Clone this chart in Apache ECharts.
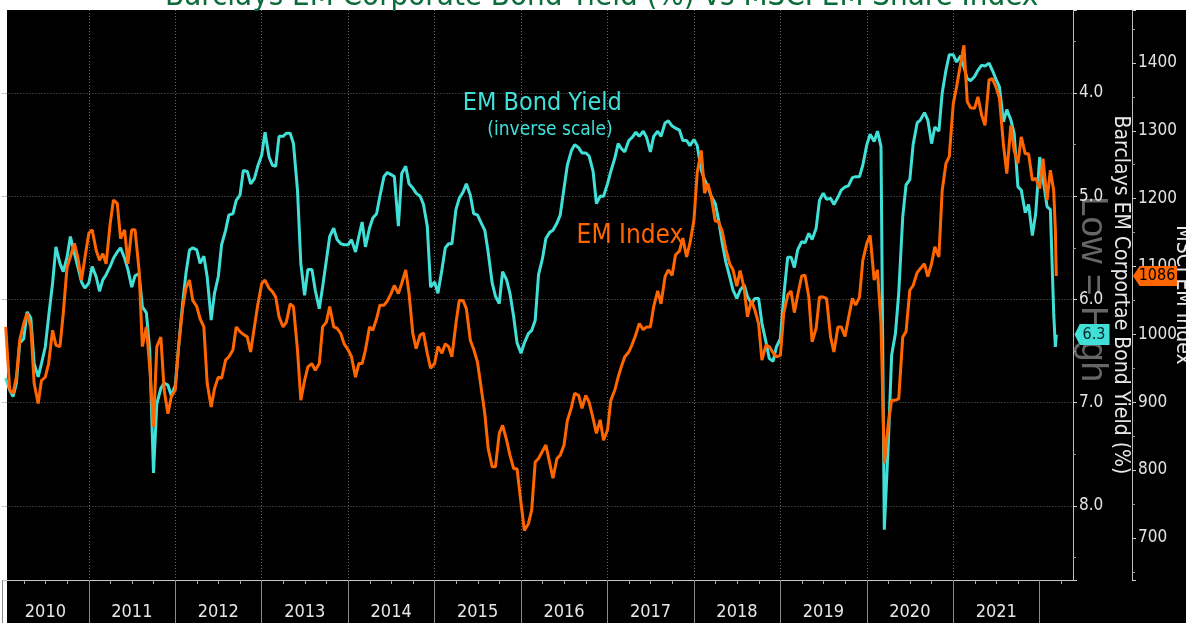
<!DOCTYPE html>
<html><head><meta charset="utf-8">
<script src="https://cdn.jsdelivr.net/npm/echarts@6/dist/echarts.min.js"></script>
<style>html,body{margin:0;padding:0;background:#fff}#c{width:1186px;height:623px}</style>
</head><body><div id="c"></div><script>
// ---- data (semi-monthly readings) ----
const dates = [
'2010-01-15','2010-02-01','2010-02-15','2010-03-01','2010-03-15','2010-04-01','2010-04-15','2010-05-01','2010-05-15','2010-06-01','2010-06-15','2010-07-01','2010-07-15','2010-08-01','2010-08-15','2010-09-01','2010-09-15','2010-10-01','2010-10-15','2010-11-01','2010-11-15','2010-12-01','2010-12-15',
'2011-01-01','2011-01-15','2011-02-01','2011-02-15','2011-03-01','2011-03-15','2011-04-01','2011-04-15','2011-05-01','2011-05-15','2011-06-01','2011-06-15','2011-07-01','2011-07-15','2011-08-01','2011-08-15','2011-09-01','2011-09-15','2011-10-01','2011-10-15','2011-11-01','2011-11-15','2011-12-01','2011-12-15',
'2012-01-01','2012-01-15','2012-02-01','2012-02-15','2012-03-01','2012-03-15','2012-04-01','2012-04-15','2012-05-01','2012-05-15','2012-06-01','2012-06-15','2012-07-01','2012-07-15','2012-08-01','2012-08-15','2012-09-01','2012-09-15','2012-10-01','2012-10-15','2012-11-01','2012-11-15','2012-12-01','2012-12-15',
'2013-01-01','2013-01-15','2013-02-01','2013-02-15','2013-03-01','2013-03-15','2013-04-01','2013-04-15','2013-05-01','2013-05-15','2013-06-01','2013-06-15','2013-07-01','2013-07-15','2013-08-01','2013-08-15','2013-09-01','2013-09-15','2013-10-01','2013-10-15','2013-11-01','2013-11-15','2013-12-01','2013-12-15',
'2014-01-01','2014-01-15','2014-02-01','2014-02-15','2014-03-01','2014-03-15','2014-04-01','2014-04-15','2014-05-01','2014-05-15','2014-06-01','2014-06-15','2014-07-01','2014-07-15','2014-08-01','2014-08-15','2014-09-01','2014-09-15','2014-10-01','2014-10-15','2014-11-01','2014-11-15','2014-12-01','2014-12-15',
'2015-01-01','2015-01-15','2015-02-01','2015-02-15','2015-03-01','2015-03-15','2015-04-01','2015-04-15','2015-05-01','2015-05-15','2015-06-01','2015-06-15','2015-07-01','2015-07-15','2015-08-01','2015-08-15','2015-09-01','2015-09-15','2015-10-01','2015-10-15','2015-11-01','2015-11-15','2015-12-01','2015-12-15',
'2016-01-01','2016-01-15','2016-02-01','2016-02-15','2016-03-01','2016-03-15','2016-04-01','2016-04-15','2016-05-01','2016-05-15','2016-06-01','2016-06-15','2016-07-01','2016-07-15','2016-08-01','2016-08-15','2016-09-01','2016-09-15','2016-10-01','2016-10-15','2016-11-01','2016-11-15','2016-12-01','2016-12-15',
'2017-01-01','2017-01-15','2017-02-01','2017-02-15','2017-03-01','2017-03-15','2017-04-01','2017-04-15','2017-05-01','2017-05-15','2017-06-01','2017-06-15','2017-07-01','2017-07-15','2017-08-01','2017-08-15','2017-09-01','2017-09-15','2017-10-01','2017-10-15','2017-11-01','2017-11-15','2017-12-01','2017-12-15',
'2018-01-01','2018-01-15','2018-02-01','2018-02-15','2018-03-01','2018-03-15','2018-04-01','2018-04-15','2018-05-01','2018-05-15','2018-06-01','2018-06-15','2018-07-01','2018-07-15','2018-08-01','2018-08-15','2018-09-01','2018-09-15','2018-10-01','2018-10-15','2018-11-01','2018-11-15','2018-12-01','2018-12-15',
'2019-01-01','2019-01-15','2019-02-01','2019-02-15','2019-03-01','2019-03-15','2019-04-01','2019-04-15','2019-05-01','2019-05-15','2019-06-01','2019-06-15','2019-07-01','2019-07-15','2019-08-01','2019-08-15','2019-09-01','2019-09-15','2019-10-01','2019-10-15','2019-11-01','2019-11-15','2019-12-01','2019-12-15',
'2020-01-01','2020-01-15','2020-02-01','2020-02-15','2020-03-01','2020-03-15','2020-04-01','2020-04-15','2020-05-01','2020-05-15','2020-06-01','2020-06-15','2020-07-01','2020-07-15','2020-08-01','2020-08-15','2020-09-01','2020-09-15','2020-10-01','2020-10-15','2020-11-01','2020-11-15','2020-12-01','2020-12-15',
'2021-01-01','2021-01-15','2021-02-01','2021-02-15','2021-03-01','2021-03-15','2021-04-01','2021-04-15','2021-05-01','2021-05-15','2021-06-01','2021-06-15','2021-07-01','2021-07-15','2021-08-01','2021-08-15','2021-09-01','2021-09-15','2021-10-01','2021-10-15','2021-11-01','2021-11-15','2021-12-01','2021-12-15',
'2022-01-01','2022-01-15','2022-02-01','2022-02-15','2022-03-01','2022-03-08','2022-03-12'
];
// Barclays EM corporate bond yield, %
const bondYield = [
6.76,6.88,6.94,6.81,6.42,6.38,6.12,6.18,6.62,6.75,6.62,6.46,6.17,5.84,5.49,5.65,5.73,5.59,5.39,5.55,5.68,5.83,5.89,
5.84,5.68,5.78,5.92,5.81,5.76,5.68,5.60,5.54,5.50,5.60,5.71,5.88,5.77,5.75,6.07,6.13,6.49,7.68,7.01,6.86,6.81,6.83,6.93,
6.83,6.46,6.04,5.75,5.52,5.50,5.52,5.65,5.58,5.78,6.20,5.94,5.78,5.47,5.33,5.18,5.17,5.04,4.99,4.75,4.76,4.88,4.83,4.71,
4.60,4.38,4.62,4.70,4.71,4.42,4.42,4.39,4.39,4.49,4.94,5.65,5.96,5.71,5.71,5.91,6.09,5.88,5.62,5.39,5.31,5.42,5.46,5.47,
5.47,5.42,5.54,5.39,5.25,5.49,5.31,5.21,5.17,5.00,4.81,4.77,4.79,4.81,5.29,4.78,4.71,4.88,4.92,4.97,5.00,5.08,5.29,5.88,
5.83,5.94,5.71,5.50,5.46,5.46,5.13,5.02,4.96,4.88,4.99,5.17,5.18,5.25,5.33,5.54,5.84,5.97,6.04,5.73,5.81,5.94,6.17,6.42,
6.52,6.42,6.33,6.30,6.20,5.76,5.60,5.41,5.35,5.33,5.26,5.18,4.92,4.70,4.56,4.50,4.53,4.58,4.58,4.61,4.76,5.07,5.00,5.00,
4.88,4.76,4.63,4.49,4.54,4.57,4.46,4.43,4.38,4.42,4.37,4.43,4.57,4.42,4.37,4.42,4.29,4.27,4.32,4.34,4.36,4.46,4.46,4.51,
4.45,4.51,4.75,4.84,4.91,5.00,5.07,5.23,5.46,5.63,5.78,5.91,5.99,5.91,5.86,5.97,6.04,5.99,5.99,6.23,6.41,6.57,6.60,6.46,
6.38,5.97,5.59,5.59,5.69,5.52,5.44,5.45,5.36,5.42,5.31,5.04,4.97,5.03,5.02,5.08,5.01,4.94,4.91,4.90,4.82,4.81,4.81,4.70,
4.50,4.40,4.47,4.37,4.52,8.23,7.39,6.54,6.33,5.94,5.20,4.89,4.84,4.50,4.29,4.26,4.19,4.26,4.49,4.33,4.37,4.00,3.78,3.63,
3.63,3.70,3.64,3.75,3.86,3.88,3.84,3.78,3.73,3.74,3.71,3.78,3.87,3.94,4.28,4.16,4.26,4.39,4.91,4.94,5.16,5.08,5.38,5.17,
4.62,4.83,5.10,5.13,6.13,6.46,6.34
];
// MSCI EM index
const emIndex = [
1011,918,913,937,991,1016,1031,1011,928,898,932,937,957,1006,984,982,1031,1099,1114,1134,1114,1080,1112,
1149,1154,1124,1109,1119,1104,1163,1198,1193,1141,1154,1104,1154,1154,1095,982,1011,952,864,982,996,918,883,908,
918,982,1038,1068,1080,1050,1041,1023,1011,928,893,920,937,935,962,967,977,1011,1004,1000,996,974,1011,1043,
1075,1080,1068,1063,1055,1026,1011,1018,1045,1041,977,903,932,952,957,947,957,1011,1018,1041,1011,1009,1001,986,
977,967,937,957,957,977,1011,1006,1023,1043,1043,1049,1060,1072,1060,1075,1095,1060,1001,979,999,1002,972,950,
957,982,972,986,982,967,1016,1050,1050,1038,991,978,959,925,883,832,805,805,854,866,844,822,802,802,
751,711,721,741,812,817,828,837,811,788,817,822,837,873,892,913,910,891,910,900,876,854,874,844,
859,903,918,937,953,967,974,985,1000,1016,1007,1011,1011,1041,1064,1045,1085,1095,1087,1117,1123,1142,1114,1134,
1168,1239,1271,1208,1222,1203,1167,1166,1151,1126,1104,1095,1071,1094,1068,1026,1050,1036,1016,962,984,982,973,967,
969,1031,1058,1064,1032,1058,1086,1087,1055,989,1009,1055,1055,1053,996,974,1011,1011,997,1023,1053,1043,1055,1109,
1134,1146,1080,1095,1016,810,869,903,903,905,996,1004,1065,1072,1091,1097,1104,1085,1104,1129,1114,1212,1252,1262,
1340,1365,1399,1426,1343,1334,1333,1350,1323,1308,1375,1377,1364,1348,1279,1237,1308,1271,1252,1291,1266,1266,1227,1230,
1215,1259,1198,1242,1212,1154,1086
];
const yearTicks = [2010,2011,2012,2013,2014,2015,2016,2017,2018,2019,2020,2021,2022];
const yearLabels = ['2010','2011','2012','2013','2014','2015','2016','2017','2018','2019','2020','2021'];

// ---- build ----
function toYear(s){
  const p = s.split('-').map(Number);
  const a = Date.UTC(p[0],0,1), b = Date.UTC(p[0]+1,0,1);
  return p[0] + (Date.UTC(p[0],p[1]-1,p[2]) - a) / (b - a);
}
const xs = dates.map(toYear);
const yieldSeries = xs.map((x,i)=>[x, bondYield[i]]);
const indexSeries = xs.map((x,i)=>[x, emIndex[i]]);
const lastYield = bondYield[bondYield.length-1];
const lastIndex = emIndex[emIndex.length-1];

const FONT = '"Liberation Sans Narrow","DejaVu Sans Condensed","Liberation Sans",sans-serif';
const CYAN = '#40e0d8', ORANGE = '#ff6600';
const X_MIN = 2010, X_MAX = 2022.385;
const TAG = 'path://M0,10 L6,0 L40,0 L40,20 L6,20 Z';

const chart = echarts.init(document.getElementById('c'), null, {renderer:'canvas'});
chart.setOption({
  animation:false,
  backgroundColor:'#ffffff',
  title:{
    text:'Barclays EM Corporate Bond Yield (%) vs MSCI EM Share Index',
    left:160, top:-24,
    textStyle:{color:'#0b6b3a', fontSize:31, fontWeight:'normal', fontFamily:FONT}
  },
  graphic:[
    {type:'rect', z:-10, silent:true, shape:{x:7,y:10,width:1179,height:613}, style:{fill:'#000'}},
    {type:'text', z:-5, silent:true, x:1092, y:289, rotation:-Math.PI/2,
     style:{text:'Low = High', fill:'#666666', font:'37px "Liberation Sans", sans-serif', align:'center', verticalAlign:'middle'}}
  ],
  grid:{left:2.4, right:113, top:10, bottom:43, containLabel:false, outerBoundsMode:'none'},
  xAxis:{
    type:'value', min:X_MIN, max:X_MAX, interval:1,
    axisLine:{show:true, lineStyle:{color:'#c8c8c8', width:1}},
    axisTick:{show:true, customValues:yearTicks, length:43, lineStyle:{color:'#8a8a8a'}},
    minorTick:{show:true, splitNumber:4, length:4, lineStyle:{color:'#aaaaaa'}},
    axisLabel:{customValues:yearTicks.slice(0,12), formatter:(v)=>yearLabels[Math.round(v)-2010] || '',
      color:'#e6e6e6', fontSize:18, fontFamily:FONT, margin:23, align:'center', padding:[0,0,0,86]},
    splitLine:{show:true, showMinLine:false, showMaxLine:false, lineStyle:{color:'#666', type:[1,2], width:1}}
  },
  yAxis:[
    {
      type:'value', position:'right', inverse:true, min:3.196, max:8.717, splitNumber:5,
      axisLine:{show:true, lineStyle:{color:'#bdbdbd'}},
      axisTick:{show:true, length:4, lineStyle:{color:'#cfcfcf'}},
      minorTick:{show:true, splitNumber:2, length:3, lineStyle:{color:'#9a9a9a'}},
      axisLabel:{color:'#e3e3e3', fontSize:17, fontFamily:FONT, margin:6, showMinLabel:false, showMaxLabel:false,
        formatter:(v)=>v.toFixed(1)},
      splitLine:{show:true, showMinLine:false, showMaxLine:false, lineStyle:{color:'#666', type:[1,2], width:1}},
      name:'Barclays EM Corportae Bond Yield (%)', nameLocation:'middle', nameRotate:-90, nameGap:37, nameMoveOverlap:false,
      nameTextStyle:{color:'#e8e8e8', fontSize:21, fontFamily:FONT}
    },
    {
      type:'value', position:'right', offset:59, min:638, max:1478, splitNumber:8,
      axisLine:{show:true, lineStyle:{color:'#bdbdbd'}},
      axisTick:{show:true, length:4, lineStyle:{color:'#cfcfcf'}},
      minorTick:{show:true, splitNumber:2, length:3, lineStyle:{color:'#9a9a9a'}},
      axisLabel:{color:'#e3e3e3', fontSize:17, fontFamily:FONT, margin:6, showMinLabel:false, showMaxLabel:false,
        formatter:(v)=>String(v)},
      splitLine:{show:false},
      name:'MSCI EM Index', nameLocation:'middle', nameRotate:-90, nameGap:40, nameMoveOverlap:false,
      nameTextStyle:{color:'#e8e8e8', fontSize:21, fontFamily:FONT}
    }
  ],
  series:[
    {
      name:'EM Bond Yield', type:'line', xAxisIndex:0, yAxisIndex:0, data:yieldSeries,
      showSymbol:false, symbol:'none', lineStyle:{color:CYAN, width:3}, itemStyle:{color:CYAN}, z:2,
      markPoint:{
        silent:true, animation:false,
        data:[
          {coord:[X_MAX, lastYield], symbol:TAG, symbolSize:[35,21], symbolOffset:[19,0], symbolKeepAspect:false,
           itemStyle:{color:CYAN},
           label:{show:true, position:'inside', offset:[2,0], formatter:()=>lastYield.toFixed(1), color:'#0b2424', fontSize:16, fontFamily:FONT}},
          {coord:[2016.245, 4.105], symbol:'circle', symbolSize:1, itemStyle:{color:'rgba(0,0,0,0)'},
           label:{show:true, position:'inside', formatter:'EM Bond Yield', color:CYAN, fontSize:25, fontFamily:FONT}},
          {coord:[2016.335, 4.36], symbol:'circle', symbolSize:1, itemStyle:{color:'rgba(0,0,0,0)'},
           label:{show:true, position:'inside', formatter:'(inverse scale)', color:CYAN, fontSize:19, fontFamily:FONT}}
        ]
      }
    },
    {
      name:'EM Index', type:'line', xAxisIndex:0, yAxisIndex:1, data:indexSeries,
      showSymbol:false, symbol:'none', lineStyle:{color:ORANGE, width:3}, itemStyle:{color:ORANGE}, z:3,
      markPoint:{
        silent:true, animation:false,
        data:[
          {coord:[X_MAX, lastIndex], symbol:TAG, symbolSize:[44,20], symbolOffset:[82,0], symbolKeepAspect:false,
           itemStyle:{color:ORANGE},
           label:{show:true, position:'inside', offset:[2,0], formatter:()=>String(Math.round(lastIndex)), color:'#000', fontSize:16, fontFamily:FONT}},
          {coord:[2017.26, 1145], symbol:'circle', symbolSize:1, itemStyle:{color:'rgba(0,0,0,0)'},
           label:{show:true, position:'inside', formatter:'EM Index', color:ORANGE, fontSize:26, fontFamily:FONT}}
        ]
      }
    }
  ]
});
</script></body></html>
